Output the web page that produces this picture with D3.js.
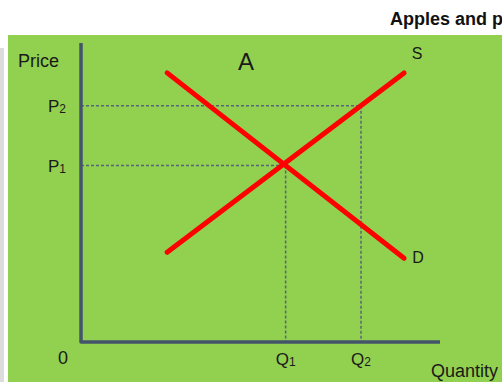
<!DOCTYPE html>
<html>
<head>
<meta charset="utf-8">
<script src="https://cdn.jsdelivr.net/npm/d3@7"></script>
<style>
  html, body { margin: 0; padding: 0; background: #fff; }
  svg { display: block; }
  .lbl { font-family: "Liberation Sans", Arial, sans-serif; fill: #1a1a1a; }
</style>
</head>
<body>
<div id="chart"></div>
<script>
// Supply / demand diagram - values in abstract units (0..100)
const supplyLine = [[24, 30], [90, 90]];
const demandLine = [[24, 90], [90, 28]];
const priceLevels = [59, 79];
const priceNames = ['P', 'P'];
const priceSubs = ['1', '2'];
const quantityLevels = [57, 78];
const quantityNames = ['Q', 'Q'];
const quantitySubs = ['1', '2'];

const width = 502;
const height = 382;

const svg = d3.select('#chart').append('svg')
  .attr('width', width)
  .attr('height', height);

// page bits around the slide
svg.append('rect')
  .attr('x', 0).attr('y', 48)
  .attr('width', 4).attr('height', height - 48)
  .attr('fill', '#dcdcdc');

svg.append('text')
  .attr('class', 'lbl')
  .attr('x', 390)
  .attr('y', 25)
  .attr('font-size', 18)
  .attr('font-weight', 'bold')
  .style('fill', '#111')
  .text('Apples and p');

svg.append('rect')
  .attr('x', 8).attr('y', 35)
  .attr('width', width - 8).attr('height', height - 35)
  .attr('fill', '#92d050');

const x = d3.scaleLinear().domain([0, 100]).range([81, 440]);
const y = d3.scaleLinear().domain([0, 100]).range([342, 43]);

const line = d3.line().x(d => x(d[0])).y(d => y(d[1]));

// dashed guides
const dash = { stroke: '#56657a', width: 1.5, array: '3,2' };
quantityLevels.forEach((q, i) => {
  const p = priceLevels[i];
  svg.append('path')
    .attr('d', line([[0, p], [q, p]]))
    .attr('stroke', dash.stroke)
    .attr('stroke-width', dash.width)
    .attr('stroke-dasharray', dash.array)
    .attr('fill', 'none');
  svg.append('path')
    .attr('d', line([[q, p], [q, 0]]))
    .attr('stroke', dash.stroke)
    .attr('stroke-width', dash.width)
    .attr('stroke-dasharray', dash.array)
    .attr('fill', 'none');
});

// axes
svg.append('path')
  .attr('d', line([[0, 100], [0, 0], [100, 0]]))
  .attr('stroke', '#44546a')
  .attr('stroke-width', 3.5)
  .attr('stroke-linejoin', 'round')
  .attr('fill', 'none');

// curves
[supplyLine, demandLine].forEach(pts => {
  svg.append('path')
    .attr('d', line(pts))
    .attr('stroke', '#ff0000')
    .attr('stroke-width', 5)
    .attr('stroke-linecap', 'round')
    .attr('fill', 'none');
});

// labels
function subLabel(px, py, name, sub, anchor) {
  const t = svg.append('text')
    .attr('class', 'lbl')
    .attr('x', px)
    .attr('y', py)
    .attr('font-size', 17)
    .attr('text-anchor', anchor);
  t.append('tspan').text(name);
  t.append('tspan').attr('font-size', 12).attr('dy', 1).text(sub);
}

priceLevels.forEach((p, i) => {
  subLabel(66, y(p) + 6, priceNames[i], priceSubs[i], 'end');
});
quantityLevels.forEach((q, i) => {
  subLabel(x(q), 365, quantityNames[i], quantitySubs[i], 'middle');
});

svg.append('text').attr('class', 'lbl')
  .attr('x', 18).attr('y', 67)
  .attr('font-size', 18)
  .text('Price');

svg.append('text').attr('class', 'lbl')
  .attr('x', 63).attr('y', 364)
  .attr('font-size', 18)
  .attr('text-anchor', 'middle')
  .text('0');

svg.append('text').attr('class', 'lbl')
  .attr('x', 431).attr('y', 377)
  .attr('font-size', 18)
  .text('Quantity');

svg.append('text').attr('class', 'lbl')
  .attr('x', x(supplyLine[1][0]) + 13).attr('y', y(supplyLine[1][1]) - 14)
  .attr('font-size', 16)
  .attr('text-anchor', 'middle')
  .text('S');

svg.append('text').attr('class', 'lbl')
  .attr('x', x(demandLine[1][0]) + 14).attr('y', y(demandLine[1][1]) + 5)
  .attr('font-size', 16)
  .attr('text-anchor', 'middle')
  .text('D');

svg.append('text').attr('class', 'lbl')
  .attr('x', 246).attr('y', 70)
  .attr('font-size', 24)
  .attr('text-anchor', 'middle')
  .text('A');
</script>
</body>
</html>
